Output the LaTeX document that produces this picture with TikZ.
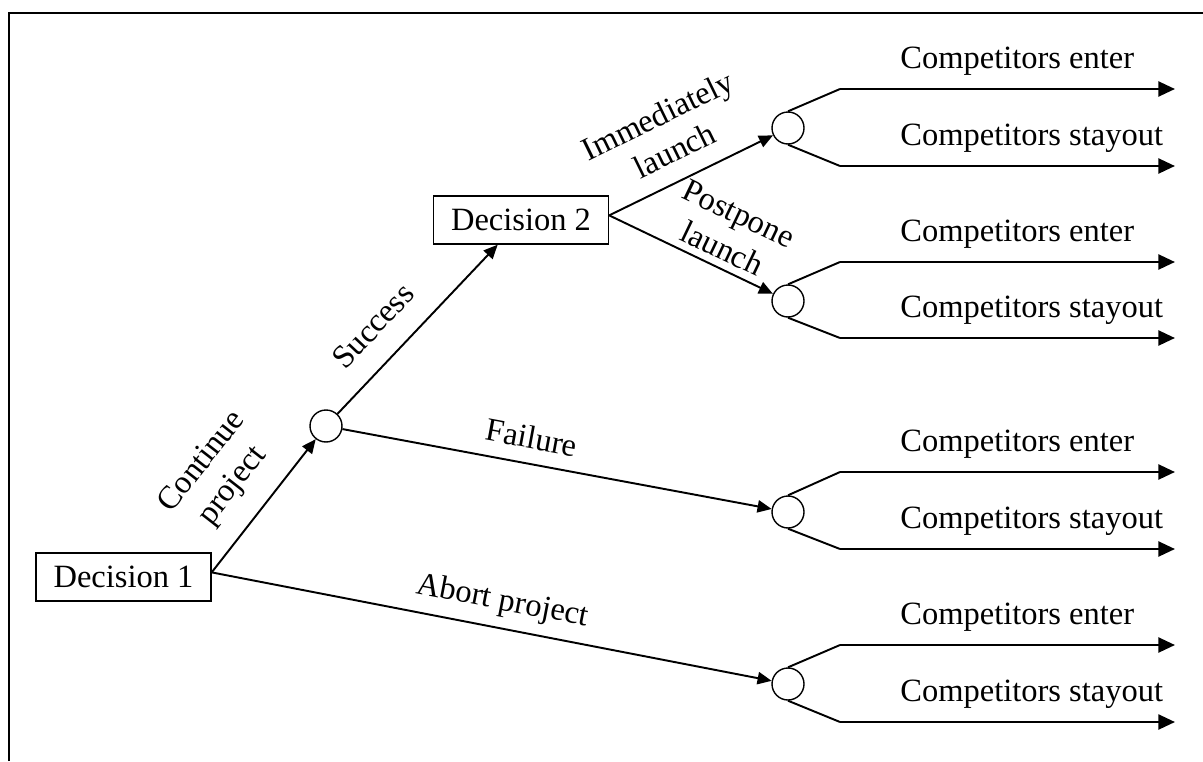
\documentclass[tikz,border=0pt]{standalone}
\usepackage{fontspec}
\setmainfont{Liberation Serif}
\usepackage{tikz}
\usetikzlibrary{positioning,arrows.meta}
\tikzset{
  dec/.style={draw=black,line width=0.8pt,minimum width=3.5cm,minimum height=0.96cm,inner sep=0pt},
  chance/.style={circle,draw=black,line width=0.8pt,minimum size=0.64cm,inner sep=0pt},
  link/.style={draw=black,line width=1.1pt,-{Triangle[length=8pt,width=7pt]}},
  branch/.style={draw=black,line width=1.1pt},
  payoff/.style={draw=black,line width=1.5pt,-{Triangle[length=9.5pt,width=8.5pt]}},
  lbl/.style={align=center,inner sep=0pt,font=\fontsize{18.5}{22}\selectfont},
  outtxt/.style={anchor=base west,inner sep=0pt},
}

\begin{document}
\begin{tikzpicture}[x=0.02cm,y=-0.02cm,font=\fontsize{18.5}{22}\selectfont]
\useasboundingbox (0,0) rectangle (1203,761);
% frame
\draw[line width=1.4pt] (9,761) -- (9,13) -- (1203,13);
% decisions and chance nodes
\node[dec] (d1) at (123.5,577) {Decision 1};
\node[dec] (d2) at (521,220) {Decision 2};
\node[chance] (c0) at (326,426) {};
\node[chance] (c1) at (788,128) {};
\node[chance] (c2) at (788,301) {};
\node[chance] (c3) at (788,512) {};
\node[chance] (c4) at (788,684) {};
% main branches
\draw[link] (d1.3) -- node[lbl,sloped,above=12pt,pos=0.48] {Continue\\project} (c0);
\draw[link] (d1.3) -- node[lbl,sloped,above=6pt,pos=0.51] {Abort project} (c4);
\draw[link] (c0) -- node[lbl,sloped,above=13pt,pos=0.38] {Success} (d2);
\draw[link] (c0) -- node[lbl,sloped,above=8pt,pos=0.43] {Failure} (c3);
\draw[link] (d2.3) -- node[lbl,sloped,above=10pt,pos=0.48] {Immediately\\launch} (c1);
\draw[link] (d2.3) -- node[lbl,sloped,above=4pt,pos=0.64] {Postpone\\launch} (c2);
% competitor outcomes
\coordinate (k1u) at (840,89);
\coordinate (e1u) at (1175,89);
\coordinate (k1l) at (840,166);
\coordinate (e1l) at (1175,166);
\draw[branch] (c1.north) -- (k1u);
\draw[branch] (c1.south) -- (k1l);
\draw[payoff] (k1u) -- (e1u);
\draw[payoff] (k1l) -- (e1l);
\node[outtxt] (t1u) at (900,68) {Competitors enter};
\node[outtxt] (t1l) at (900,145) {Competitors stayout};
\coordinate (k2u) at (840,262);
\coordinate (e2u) at (1175,262);
\coordinate (k2l) at (840,338);
\coordinate (e2l) at (1175,338);
\draw[branch] (c2.north) -- (k2u);
\draw[branch] (c2.south) -- (k2l);
\draw[payoff] (k2u) -- (e2u);
\draw[payoff] (k2l) -- (e2l);
\node[outtxt] (t2u) at (900,241) {Competitors enter};
\node[outtxt] (t2l) at (900,317) {Competitors stayout};
\coordinate (k3u) at (840,472);
\coordinate (e3u) at (1175,472);
\coordinate (k3l) at (840,549);
\coordinate (e3l) at (1175,549);
\draw[branch] (c3.north) -- (k3u);
\draw[branch] (c3.south) -- (k3l);
\draw[payoff] (k3u) -- (e3u);
\draw[payoff] (k3l) -- (e3l);
\node[outtxt] (t3u) at (900,451) {Competitors enter};
\node[outtxt] (t3l) at (900,528) {Competitors stayout};
\coordinate (k4u) at (840,645);
\coordinate (e4u) at (1175,645);
\coordinate (k4l) at (840,722);
\coordinate (e4l) at (1175,722);
\draw[branch] (c4.north) -- (k4u);
\draw[branch] (c4.south) -- (k4l);
\draw[payoff] (k4u) -- (e4u);
\draw[payoff] (k4l) -- (e4l);
\node[outtxt] (t4u) at (900,624) {Competitors enter};
\node[outtxt] (t4l) at (900,701) {Competitors stayout};
\end{tikzpicture}
\end{document}
